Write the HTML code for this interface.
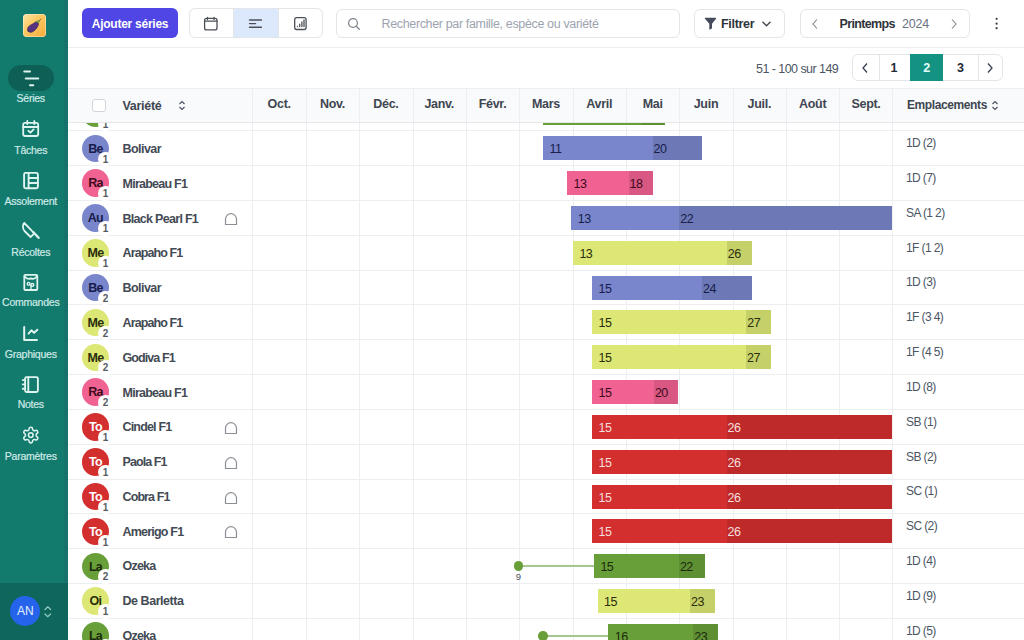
<!DOCTYPE html>
<html><head><meta charset="utf-8">
<style>
*{box-sizing:border-box;margin:0;padding:0}
html,body{width:1024px;height:640px;overflow:hidden;background:#fff;font-family:"Liberation Sans",sans-serif;color:#374151}
.abs{position:absolute}
#sb{position:absolute;left:0;top:0;width:68px;height:640px;background:#137a6e}
#sbb{position:absolute;left:0;top:582.5px;width:68px;height:58px;background:#0f665c}
#sbstrip{position:absolute;left:64px;top:0;width:4px;height:582.5px;background:#15736c}
.logo{position:absolute;left:22.5px;top:13.7px;width:23.2px;height:23.2px;border-radius:4px;background:linear-gradient(135deg,#fde4a6 0%,#fbca66 40%,#f6a93a 100%);box-shadow:inset 0 0 0 0.8px rgba(255,245,220,0.6)}
.pill{position:absolute;left:8px;top:65px;width:46px;height:26px;border-radius:13px;background:#0e5f56}
.nl{position:absolute;left:0;width:61.5px;text-align:center;font-size:10.5px;color:#cfeae6;-webkit-text-stroke:0.2px #cfeae6;line-height:12px;white-space:nowrap;letter-spacing:-0.25px}
.ni{position:absolute}
.av2{position:absolute;left:10.3px;top:595.8px;width:30px;height:30px;border-radius:50%;background:#2563eb;color:#e8f0ff;font-size:12px;text-align:center;line-height:30px;z-index:21}
/* toolbar */
#tb{position:absolute;left:68px;top:0;width:956px;height:47.5px;border-bottom:1px solid #eceef0;background:#fff}
.btn{position:absolute;border:1px solid #e3e5e8;border-radius:6px;background:#fff}
#add{position:absolute;left:82px;top:8px;width:96px;height:30px;border-radius:6px;background:#4f46e5;color:#fff;font-weight:700;font-size:12px;line-height:32px;text-align:center;letter-spacing:-0.25px}
/* pagination */
#pgtxt{position:absolute;left:756px;top:61.5px;font-size:12.5px;color:#4b5563;white-space:nowrap;letter-spacing:-0.55px}
/* table */
#thead{position:absolute;left:68px;top:88px;width:956px;height:34.5px;background:#f9fafb;border-top:1px solid #eceef0;border-bottom:1px solid #e5e7eb;z-index:5}
.hl{position:absolute;left:68px;width:956px;height:1px;background:#eceef0}
.vl{position:absolute;top:88px;width:1px;height:552px;background:#eceef0;z-index:1}
.vlh{position:absolute;top:89px;width:1px;height:33px;background:#eceef0;z-index:6}
.mh{position:absolute;top:97px;width:53.35px;text-align:center;font-size:12.5px;font-weight:700;color:#3f4651;z-index:7;letter-spacing:-0.3px}
.av{position:absolute;left:81.7px;width:27.5px;height:27.5px;border-radius:50%;font-size:12.5px;font-weight:700;text-align:center;line-height:29px;letter-spacing:-0.75px}
.cnt{position:absolute;left:98.2px;width:14.5px;height:14.5px;border-radius:50%;background:#fff;font-size:10px;font-weight:700;color:#555b63;text-align:center;line-height:16px}
.nm{position:absolute;left:122.5px;font-size:12.5px;font-weight:700;color:#434a54;white-space:nowrap;letter-spacing:-0.55px;line-height:15px}
.tn{position:absolute;left:224.3px;margin-top:1px;width:14px;height:14px}
.bar{position:absolute;z-index:2;height:24px;font-size:12.5px;line-height:26px;letter-spacing:-0.5px;white-space:nowrap;overflow:hidden}
.bar span{padding-left:6.5px}
.b2 span{padding-left:1px}
.dl{position:absolute;z-index:2;height:2px;background:#a6c78f}
.dot{position:absolute;z-index:3;width:9.6px;height:9.6px;border-radius:50%;background:#689f38}
.dlab{position:absolute;z-index:3;width:20px;text-align:center;font-size:9.5px;line-height:10px;color:#4b5563}
.em{position:absolute;left:906px;font-size:12px;color:#4b5563;white-space:nowrap;letter-spacing:-0.6px;line-height:15px}
#empcov{position:absolute;left:893px;top:88px;width:131px;height:552px;background:#fff}
</style></head><body>
<!-- main rows -->
<div id="rows">
<div class="hl" style="top:130px"></div>
<div class="av" style="top:99.72px;background:#689f38;color:#1b2a0c">La</div>
<div class="cnt" style="top:116.67px">1</div>
<div class="nm" style="top:107.32px;letter-spacing:-0.775px">Ozeka</div>
<div class="bar" style="top:101.47px;left:543.10px;width:98.20px;background:#689f38;color:#1b2a0c"><span></span></div>
<div class="bar b2" style="top:101.47px;left:641.30px;width:24.10px;background:#5e8f32;color:#1b2a0c"><span></span></div>
<div class="em" style="top:101.27px">1D (1)</div>
<div class="hl" style="top:165px"></div>
<div class="av" style="top:134.55px;background:#7986cb;color:#171c4a">Be</div>
<div class="cnt" style="top:151.50px">1</div>
<div class="nm" style="top:142.10px;letter-spacing:-0.550px">Bolivar</div>
<div class="bar" style="top:136.30px;left:543.10px;width:109.50px;background:#7986cb;color:#171c4a"><span>11</span></div>
<div class="bar b2" style="top:136.30px;left:652.60px;width:49.50px;background:#6d79b7;color:#171c4a"><span>20</span></div>
<div class="em" style="top:136.10px">1D (2)</div>
<div class="hl" style="top:200px"></div>
<div class="av" style="top:169.38px;background:#f06292;color:#3d0a1c">Ra</div>
<div class="cnt" style="top:186.33px">1</div>
<div class="nm" style="top:176.88px;letter-spacing:-0.750px">Mirabeau F1</div>
<div class="bar" style="top:171.13px;left:567.10px;width:61.50px;background:#f06292;color:#3d0a1c"><span>13</span></div>
<div class="bar b2" style="top:171.13px;left:628.60px;width:24.90px;background:#d85883;color:#3d0a1c"><span>18</span></div>
<div class="em" style="top:170.93px">1D (7)</div>
<div class="hl" style="top:235px"></div>
<div class="av" style="top:204.21px;background:#7986cb;color:#171c4a">Au</div>
<div class="cnt" style="top:221.16px">1</div>
<div class="nm" style="top:211.66px;letter-spacing:-0.704px">Black Pearl F1</div>
<div class="tn" style="top:210.96px"><svg width="14" height="14" viewBox="0 0 14 14"><path d="M1.5 12.5V7.2A5.5 5.5 0 0 1 12.5 7.2V12.5Z" fill="none" stroke="#8a8f96" stroke-width="1.2" stroke-linejoin="round"/></svg></div>
<div class="bar" style="top:205.96px;left:571.30px;width:108.00px;background:#7986cb;color:#171c4a"><span>13</span></div>
<div class="bar b2" style="top:205.96px;left:679.30px;width:212.70px;background:#6d79b7;color:#171c4a"><span>22</span></div>
<div class="em" style="top:205.76px">SA (1 2)</div>
<div class="hl" style="top:270px"></div>
<div class="av" style="top:239.04px;background:#dce775;color:#2a2e0a">Me</div>
<div class="cnt" style="top:255.99px">1</div>
<div class="nm" style="top:246.44px;letter-spacing:-0.883px">Arapaho F1</div>
<div class="bar" style="top:240.79px;left:572.90px;width:153.80px;background:#dce775;color:#2a2e0a"><span>13</span></div>
<div class="bar b2" style="top:240.79px;left:726.70px;width:25.10px;background:#c6d069;color:#2a2e0a"><span>26</span></div>
<div class="em" style="top:240.59px">1F (1 2)</div>
<div class="hl" style="top:304px"></div>
<div class="av" style="top:273.87px;background:#7986cb;color:#171c4a">Be</div>
<div class="cnt" style="top:290.82px">2</div>
<div class="nm" style="top:281.22px;letter-spacing:-0.550px">Bolivar</div>
<div class="bar" style="top:275.62px;left:592.00px;width:110.00px;background:#7986cb;color:#171c4a"><span>15</span></div>
<div class="bar b2" style="top:275.62px;left:702.00px;width:49.80px;background:#6d79b7;color:#171c4a"><span>24</span></div>
<div class="em" style="top:275.42px">1D (3)</div>
<div class="hl" style="top:339px"></div>
<div class="av" style="top:308.70px;background:#dce775;color:#2a2e0a">Me</div>
<div class="cnt" style="top:325.65px">2</div>
<div class="nm" style="top:316.00px;letter-spacing:-0.883px">Arapaho F1</div>
<div class="bar" style="top:310.45px;left:592.00px;width:154.20px;background:#dce775;color:#2a2e0a"><span>15</span></div>
<div class="bar b2" style="top:310.45px;left:746.20px;width:24.90px;background:#c6d069;color:#2a2e0a"><span>27</span></div>
<div class="em" style="top:310.25px">1F (3 4)</div>
<div class="hl" style="top:374px"></div>
<div class="av" style="top:343.53px;background:#dce775;color:#2a2e0a">Me</div>
<div class="cnt" style="top:360.48px">2</div>
<div class="nm" style="top:350.78px;letter-spacing:-0.912px">Godiva F1</div>
<div class="bar" style="top:345.28px;left:592.00px;width:154.10px;background:#dce775;color:#2a2e0a"><span>15</span></div>
<div class="bar b2" style="top:345.28px;left:746.10px;width:25.00px;background:#c6d069;color:#2a2e0a"><span>27</span></div>
<div class="em" style="top:345.08px">1F (4 5)</div>
<div class="hl" style="top:409px"></div>
<div class="av" style="top:378.36px;background:#f06292;color:#3d0a1c">Ra</div>
<div class="cnt" style="top:395.31px">2</div>
<div class="nm" style="top:385.56px;letter-spacing:-0.750px">Mirabeau F1</div>
<div class="bar" style="top:380.11px;left:592.00px;width:61.90px;background:#f06292;color:#3d0a1c"><span>15</span></div>
<div class="bar b2" style="top:380.11px;left:653.90px;width:24.00px;background:#d85883;color:#3d0a1c"><span>20</span></div>
<div class="em" style="top:379.91px">1D (8)</div>
<div class="hl" style="top:444px"></div>
<div class="av" style="top:413.19px;background:#d32f2f;color:#ffffff">To</div>
<div class="cnt" style="top:430.14px">1</div>
<div class="nm" style="top:420.34px;letter-spacing:-0.825px">Cindel F1</div>
<div class="tn" style="top:419.94px"><svg width="14" height="14" viewBox="0 0 14 14"><path d="M1.5 12.5V7.2A5.5 5.5 0 0 1 12.5 7.2V12.5Z" fill="none" stroke="#8a8f96" stroke-width="1.2" stroke-linejoin="round"/></svg></div>
<div class="bar" style="top:414.94px;left:592.00px;width:134.60px;background:#d32f2f;color:#f6dede"><span>15</span></div>
<div class="bar b2" style="top:414.94px;left:726.60px;width:165.40px;background:#be2a2a;color:#f6dede"><span>26</span></div>
<div class="em" style="top:414.74px">SB (1)</div>
<div class="hl" style="top:479px"></div>
<div class="av" style="top:448.02px;background:#d32f2f;color:#ffffff">To</div>
<div class="cnt" style="top:464.97px">1</div>
<div class="nm" style="top:455.12px;letter-spacing:-0.921px">Paola F1</div>
<div class="tn" style="top:454.77px"><svg width="14" height="14" viewBox="0 0 14 14"><path d="M1.5 12.5V7.2A5.5 5.5 0 0 1 12.5 7.2V12.5Z" fill="none" stroke="#8a8f96" stroke-width="1.2" stroke-linejoin="round"/></svg></div>
<div class="bar" style="top:449.77px;left:592.00px;width:134.60px;background:#d32f2f;color:#f6dede"><span>15</span></div>
<div class="bar b2" style="top:449.77px;left:726.60px;width:165.40px;background:#be2a2a;color:#f6dede"><span>26</span></div>
<div class="em" style="top:449.57px">SB (2)</div>
<div class="hl" style="top:513px"></div>
<div class="av" style="top:482.85px;background:#d32f2f;color:#ffffff">To</div>
<div class="cnt" style="top:499.80px">1</div>
<div class="nm" style="top:489.90px;letter-spacing:-0.893px">Cobra F1</div>
<div class="tn" style="top:489.60px"><svg width="14" height="14" viewBox="0 0 14 14"><path d="M1.5 12.5V7.2A5.5 5.5 0 0 1 12.5 7.2V12.5Z" fill="none" stroke="#8a8f96" stroke-width="1.2" stroke-linejoin="round"/></svg></div>
<div class="bar" style="top:484.60px;left:592.00px;width:134.60px;background:#d32f2f;color:#f6dede"><span>15</span></div>
<div class="bar b2" style="top:484.60px;left:726.60px;width:165.40px;background:#be2a2a;color:#f6dede"><span>26</span></div>
<div class="em" style="top:484.40px">SC (1)</div>
<div class="hl" style="top:548px"></div>
<div class="av" style="top:517.68px;background:#d32f2f;color:#ffffff">To</div>
<div class="cnt" style="top:534.63px">1</div>
<div class="nm" style="top:524.68px;letter-spacing:-0.794px">Amerigo F1</div>
<div class="tn" style="top:524.43px"><svg width="14" height="14" viewBox="0 0 14 14"><path d="M1.5 12.5V7.2A5.5 5.5 0 0 1 12.5 7.2V12.5Z" fill="none" stroke="#8a8f96" stroke-width="1.2" stroke-linejoin="round"/></svg></div>
<div class="bar" style="top:519.43px;left:592.00px;width:134.60px;background:#d32f2f;color:#f6dede"><span>15</span></div>
<div class="bar b2" style="top:519.43px;left:726.60px;width:165.40px;background:#be2a2a;color:#f6dede"><span>26</span></div>
<div class="em" style="top:519.23px">SC (2)</div>
<div class="hl" style="top:583px"></div>
<div class="av" style="top:552.51px;background:#689f38;color:#1b2a0c">La</div>
<div class="cnt" style="top:569.46px">2</div>
<div class="nm" style="top:559.46px;letter-spacing:-0.775px">Ozeka</div>
<div class="bar" style="top:554.26px;left:593.90px;width:85.00px;background:#689f38;color:#1b2a0c"><span>15</span></div>
<div class="bar b2" style="top:554.26px;left:678.90px;width:25.90px;background:#5e8f32;color:#1b2a0c"><span>22</span></div>
<div class="dl" style="top:565.26px;left:518.30px;width:75.60px"></div>
<div class="dot" style="top:561.46px;left:513.50px"></div>
<div class="dlab" style="top:572.46px;left:508.30px">9</div>
<div class="em" style="top:554.06px">1D (4)</div>
<div class="hl" style="top:618px"></div>
<div class="av" style="top:587.34px;background:#dce775;color:#2a2e0a">Oi</div>
<div class="cnt" style="top:604.29px">1</div>
<div class="nm" style="top:594.24px;letter-spacing:-0.450px">De Barletta</div>
<div class="bar" style="top:589.09px;left:597.60px;width:92.50px;background:#dce775;color:#2a2e0a"><span>15</span></div>
<div class="bar b2" style="top:589.09px;left:690.10px;width:24.90px;background:#c6d069;color:#2a2e0a"><span>23</span></div>
<div class="em" style="top:588.89px">1D (9)</div>
<div class="hl" style="top:653px"></div>
<div class="av" style="top:622.17px;background:#689f38;color:#1b2a0c">La</div>
<div class="cnt" style="top:639.12px">1</div>
<div class="nm" style="top:629.02px;letter-spacing:-0.775px">Ozeka</div>
<div class="bar" style="top:623.92px;left:608.20px;width:85.00px;background:#689f38;color:#1b2a0c"><span>16</span></div>
<div class="bar b2" style="top:623.92px;left:693.20px;width:24.80px;background:#5e8f32;color:#1b2a0c"><span>23</span></div>
<div class="dl" style="top:634.92px;left:542.80px;width:65.40px"></div>
<div class="dot" style="top:631.12px;left:538.00px"></div>
<div class="em" style="top:623.72px">1D (5)</div>
</div>
<div class="vl" style="left:252px"></div><div class="vl" style="left:306px"></div><div class="vl" style="left:359px"></div><div class="vl" style="left:413px"></div><div class="vl" style="left:466px"></div><div class="vl" style="left:519px"></div><div class="vl" style="left:573px"></div><div class="vl" style="left:626px"></div><div class="vl" style="left:679px"></div><div class="vl" style="left:733px"></div><div class="vl" style="left:786px"></div><div class="vl" style="left:839px"></div><div class="vl" style="left:892px"></div><div class="vlh" style="left:252px"></div><div class="vlh" style="left:306px"></div><div class="vlh" style="left:359px"></div><div class="vlh" style="left:413px"></div><div class="vlh" style="left:466px"></div><div class="vlh" style="left:519px"></div><div class="vlh" style="left:573px"></div><div class="vlh" style="left:626px"></div><div class="vlh" style="left:679px"></div><div class="vlh" style="left:733px"></div><div class="vlh" style="left:786px"></div><div class="vlh" style="left:839px"></div><div class="vlh" style="left:892px"></div>
<div id="thead"></div>
<div class="abs" style="left:92px;top:98.5px;width:13.5px;height:13.5px;border:1px solid #d1d5db;border-radius:3px;background:#fff;z-index:7"></div>
<div class="abs" style="left:122.5px;top:98.5px;font-size:12.5px;font-weight:700;color:#3f4651;z-index:7;letter-spacing:-0.3px">Variété</div>
<svg class="abs" style="left:178px;top:100px;z-index:7" width="8" height="11" viewBox="0 0 8 11"><path d="M1.5 4L4 1.5L6.5 4M1.5 7L4 9.5L6.5 7" fill="none" stroke="#4b5563" stroke-width="1.2"/></svg>
<div class="mh" style="left:252.50px">Oct.</div><div class="mh" style="left:305.85px">Nov.</div><div class="mh" style="left:359.20px">Déc.</div><div class="mh" style="left:412.55px">Janv.</div><div class="mh" style="left:465.90px">Févr.</div><div class="mh" style="left:519.25px">Mars</div><div class="mh" style="left:572.60px">Avril</div><div class="mh" style="left:625.95px">Mai</div><div class="mh" style="left:679.30px">Juin</div><div class="mh" style="left:732.65px">Juil.</div><div class="mh" style="left:786.00px">Août</div><div class="mh" style="left:839.35px">Sept.</div>
<div class="abs" style="left:907px;top:97.5px;font-size:12px;font-weight:700;color:#3f4651;z-index:7;letter-spacing:-0.4px">Emplacements</div>
<svg class="abs" style="left:991px;top:100px;z-index:7" width="8" height="11" viewBox="0 0 8 11"><path d="M1.5 4L4 1.5L6.5 4M1.5 7L4 9.5L6.5 7" fill="none" stroke="#4b5563" stroke-width="1.2"/></svg>
<!-- pagination row -->
<div class="abs" style="left:68px;top:48px;width:956px;height:40px;background:#fff"></div>
<div id="pgtxt">51 - 100 sur 149</div>
<div class="btn" style="left:852.3px;top:54px;width:150.6px;height:27.3px;overflow:hidden">
 <div class="abs" style="left:25.5px;top:0;width:1px;height:27px;background:#e3e5e8"></div>
 <div class="abs" style="left:124.4px;top:0;width:1px;height:27px;background:#e3e5e8"></div>
</div>
<svg class="abs" style="left:861px;top:62px" width="8" height="12" viewBox="0 0 8 12"><path d="M6 1.5L2 6L6 10.5" fill="none" stroke="#374151" stroke-width="1.3"/></svg>
<div class="abs" style="left:878px;top:61px;width:32px;text-align:center;font-size:12.5px;font-weight:700;color:#1f2937">1</div>
<div class="abs" style="left:910.3px;top:54px;width:33px;height:27.3px;background:#149382"></div>
<div class="abs" style="left:910px;top:61px;width:33.4px;text-align:center;font-size:12.5px;font-weight:700;color:#e6fffb">2</div>
<div class="abs" style="left:943.5px;top:61px;width:34px;text-align:center;font-size:12.5px;font-weight:700;color:#1f2937">3</div>
<svg class="abs" style="left:986px;top:62px" width="8" height="12" viewBox="0 0 8 12"><path d="M2 1.5L6 6L2 10.5" fill="none" stroke="#374151" stroke-width="1.3"/></svg>

<!-- toolbar -->
<div id="tb"></div>
<div id="add">Ajouter séries</div>
<div class="btn" style="left:188.5px;top:8px;width:134px;height:30px;overflow:hidden">
 <div class="abs" style="left:43.8px;top:0;width:45.6px;height:28px;background:#dce8fb;border-left:1px solid #e3e5e8;border-right:1px solid #e3e5e8"></div>
</div>
<svg class="abs" style="left:196px;top:10px" width="120" height="26" viewBox="196 10 120 26" fill="none" stroke="#4b5057" stroke-width="1.3" stroke-linecap="round" stroke-linejoin="round">
 <rect x="204.6" y="18.4" width="12.4" height="11.5" rx="2"/><path d="M204.6 21.2H217M207.5 17.3V19.6M214 17.3V19.6"/>
 <path d="M249.5 20H261.4M249.5 23.6H255.6M249.5 27.2H261.4" stroke-width="1.4"/>
 <rect x="294.7" y="17.7" width="11.4" height="11.8" rx="2"/><path d="M297.5 26.6V26.4M299.7 26.6V24.2M301.9 26.6V22M304 26.6V19.9" stroke-width="1.3"/>
</svg>
<div class="btn" style="left:335.8px;top:8.5px;width:344.6px;height:29px"></div>
<svg class="abs" style="left:347px;top:17px" width="14" height="14" viewBox="0 0 14 14"><circle cx="6" cy="6" r="4.4" fill="none" stroke="#7d838c" stroke-width="1.25"/><path d="M9.3 9.3L12.3 12.3" stroke="#7d838c" stroke-width="1.25" stroke-linecap="round"/></svg>
<div class="abs" style="left:381.5px;top:17px;font-size:12.5px;color:#9ca3af;white-space:nowrap;letter-spacing:-0.35px">Rechercher par famille, espèce ou variété</div>
<div class="btn" style="left:694px;top:8.5px;width:91px;height:29px"></div>
<svg class="abs" style="left:704px;top:17px" width="13" height="14" viewBox="0 0 13 14"><path d="M1.5 0.8H11.5Q12.6 0.8 12 1.8L8 6.8V11.5L5.3 12.8V6.8L1 1.8Q0.4 0.8 1.5 0.8Z" fill="#474b5e"/></svg>
<div class="abs" style="left:721px;top:17px;font-size:12.5px;font-weight:700;color:#2f343b;white-space:nowrap;letter-spacing:-0.3px">Filtrer</div>
<svg class="abs" style="left:761px;top:19.5px" width="11" height="8" viewBox="0 0 11 8"><path d="M1.5 1.8L5.5 5.8L9.5 1.8" fill="none" stroke="#3f444c" stroke-width="1.3"/></svg>
<div class="btn" style="left:799.5px;top:8.5px;width:170px;height:29px"></div>
<svg class="abs" style="left:811px;top:17.5px" width="8" height="12" viewBox="0 0 8 12"><path d="M6 1.5L2 6L6 10.5" fill="none" stroke="#80868f" stroke-width="1.1"/></svg>
<div class="abs" style="left:839.5px;top:17px;font-size:12.5px;font-weight:700;color:#2f343b;white-space:nowrap;letter-spacing:-0.65px">Printemps</div>
<div class="abs" style="left:902px;top:17px;font-size:12.5px;color:#6b7280;white-space:nowrap;letter-spacing:-0.2px">2024</div>
<svg class="abs" style="left:950px;top:17.5px" width="8" height="12" viewBox="0 0 8 12"><path d="M2 1.5L6 6L2 10.5" fill="none" stroke="#80868f" stroke-width="1.1"/></svg>
<svg class="abs" style="left:993px;top:15px" width="8" height="17" viewBox="0 0 8 17"><circle cx="3.6" cy="3.8" r="1.1" fill="#3a3f47"/><circle cx="3.6" cy="8.7" r="1.1" fill="#3a3f47"/><circle cx="3.6" cy="13.2" r="1.1" fill="#3a3f47"/></svg>

<!-- sidebar -->
<div id="sb"></div>
<div id="sbstrip"></div>
<div id="sbb"></div>
<div class="logo"></div>
<div class="pill"></div>
<div class="nl" style="top:92.3px">Séries</div>
<div class="nl" style="top:143.8px">Tâches</div>
<div class="nl" style="top:194.8px">Assolement</div>
<div class="nl" style="top:245.8px">Récoltes</div>
<div class="nl" style="top:296.3px">Commandes</div>
<div class="nl" style="top:347.8px">Graphiques</div>
<div class="nl" style="top:398.3px">Notes</div>
<div class="nl" style="top:449.8px">Paramètres</div>
<div class="av2">AN</div>
<svg class="abs" style="left:0;top:0;z-index:20" width="68" height="640" viewBox="0 0 68 640" fill="none" stroke="#def4ef" stroke-linecap="round" stroke-linejoin="round">
 <g stroke-width="2"><path d="M24.25 71.4H30M25.75 78.4H38.25M30 85.25H33.25"/></g>
 <g stroke-width="1.8"><rect x="23.2" y="122.8" width="15" height="13.2" rx="2"/><path d="M23.2 127H38.2M27.3 120.9V124M34.3 120.9V124M28.4 130.8L30.4 132.7L33.6 129.4"/></g>
 <g stroke-width="1.9"><rect x="24.1" y="172.9" width="13.8" height="15.4" rx="1.5"/><path d="M28.6 172.9V188.3M28.6 178H37.9M28.6 183H37.9"/></g>
 <g stroke-width="1.8"><path d="M24.3 223L33.4 232.3M24.3 223C22.4 224.6 22.5 228.9 24.5 231L30.6 237L33.6 234.2"/><path d="M33.4 232.3L38.6 237.8" stroke-width="2.4"/></g>
 <g stroke-width="1.8"><rect x="24.3" y="274.9" width="13" height="15.1" rx="1"/><path d="M24.6 276.3C26.5 279 29 279.3 30.8 278.4C32.6 279.3 35.1 279 37 276.3"/></g>
 <g stroke-width="1.4"><circle cx="28.6" cy="283.8" r="1.4"/><circle cx="32.4" cy="284.9" r="1.4"/><path d="M31 285.5V288.6"/></g>
 <g stroke-width="2"><path d="M24.2 327V339.9H37M28.6 333.6L31.4 330.3L34.1 332.8L37.4 329.8"/></g>
 <g stroke-width="1.9"><rect x="25.1" y="377.1" width="12.8" height="14.9" rx="1.5"/><path d="M28.3 377.1V392M22.8 380.1H25.1M22.8 384.4H25.1M22.8 388.7H25.1"/></g>
 <g transform="translate(21.44 425.74) scale(0.78)" stroke-width="2"><path d="M12.22 2h-.44a2 2 0 0 0-2 2v.18a2 2 0 0 1-1 1.73l-.43.25a2 2 0 0 1-2 0l-.15-.08a2 2 0 0 0-2.73.73l-.22.38a2 2 0 0 0 .73 2.73l.15.1a2 2 0 0 1 1 1.72v.51a2 2 0 0 1-1 1.74l-.15.09a2 2 0 0 0-.73 2.73l.22.38a2 2 0 0 0 2.73.73l.15-.08a2 2 0 0 1 2 0l.43.25a2 2 0 0 1 1 1.73V20a2 2 0 0 0 2 2h.44a2 2 0 0 0 2-2v-.18a2 2 0 0 1 1-1.73l.43-.25a2 2 0 0 1 2 0l.15.08a2 2 0 0 0 2.73-.73l.22-.39a2 2 0 0 0-.73-2.73l-.15-.08a2 2 0 0 1-1-1.74v-.5a2 2 0 0 1 1-1.74l.15-.09a2 2 0 0 0 .73-2.73l-.22-.38a2 2 0 0 0-2.73-.73l-.15.08a2 2 0 0 1-2 0l-.43-.25a2 2 0 0 1-1-1.73V4a2 2 0 0 0-2-2z"/><circle cx="12" cy="12" r="3"/></g>
 <path d="M45 609.5L47.8 606.8L50.6 609.5M45 614L47.8 616.7L50.6 614" stroke="#8fc9c0" stroke-width="1.2"/>
 <g stroke="none"><path d="M28 31.2C26.8 29.6 27.6 26.6 30 25.4C32 24.4 33.8 23.4 35.6 22C37 21 38.9 22.2 38.6 24C38.2 26.5 36 29.5 33.6 31.3C31.8 32.7 29.2 32.8 28 31.2Z" fill="#553380" stroke="#3b2152" stroke-width="0.6"/><path d="M35.2 22.4C36.2 20.6 38.4 19.8 40 20.4C39.6 21.6 39.2 22.6 38.6 23.6C37.8 22.6 36.5 22.2 35.2 22.4Z" fill="#6f9e3e"/><path d="M39.5 20.6L40.8 19" stroke="#7a5a2a" stroke-width="0.9"/></g>
</svg>

</body></html>
